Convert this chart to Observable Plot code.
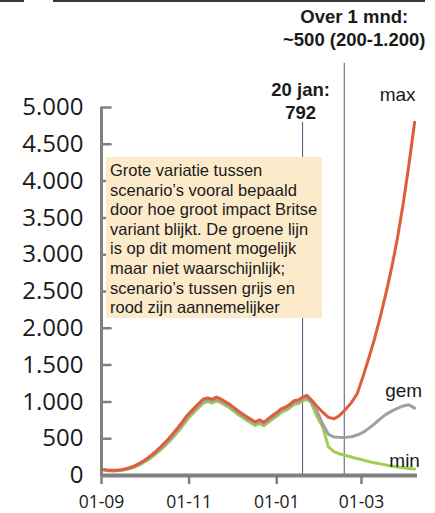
<!DOCTYPE html>
<html><head><meta charset="utf-8">
<script src="https://cdn.jsdelivr.net/npm/d3@7"></script>
<script src="https://cdn.jsdelivr.net/npm/@observablehq/plot@0.6"></script>
<style>
body{margin:0;background:#fff;}
#wrap{position:relative;width:435px;height:513px;overflow:hidden;font-family:"Liberation Sans",Arial,sans-serif;}
#wrap svg{position:absolute;left:0;top:0;}
#note{position:absolute;left:106px;top:157px;width:216px;height:161px;background:#fcebca;box-sizing:border-box;padding:4px 0 0 4px;font-size:16.5px;line-height:19.6px;color:#1a1a1a;white-space:nowrap;}
.topline{position:absolute;top:0px;height:2px;background:#3a3a3a;}
</style></head>
<body><div id="wrap"></div>
<script>
// ---- data ----
const sampleDates = [
  "2020-09-03","2020-09-06","2020-09-09","2020-09-12","2020-09-15","2020-09-18","2020-09-21","2020-09-24","2020-09-27","2020-09-30",
  "2020-10-03","2020-10-06","2020-10-09","2020-10-12","2020-10-15","2020-10-18","2020-10-21","2020-10-24","2020-10-27","2020-10-30",
  "2020-11-02","2020-11-05","2020-11-08","2020-11-11","2020-11-14","2020-11-17","2020-11-20","2020-11-23","2020-11-26","2020-11-29",
  "2020-12-02","2020-12-05","2020-12-08","2020-12-11","2020-12-14","2020-12-17","2020-12-20","2020-12-23","2020-12-26","2020-12-29",
  "2021-01-01","2021-01-04","2021-01-07","2021-01-10","2021-01-13","2021-01-16","2021-01-19","2021-01-22","2021-01-25","2021-01-29",
  "2021-02-02","2021-02-06","2021-02-10","2021-02-14","2021-02-18","2021-02-22","2021-02-26","2021-03-02","2021-03-06","2021-03-10",
  "2021-03-14","2021-03-18","2021-03-22","2021-03-26","2021-03-30","2021-04-03","2021-04-07"
];
const maxValues = [
  80,72,70,72,80,92,110,132,160,195,
  235,280,330,385,445,505,575,645,720,800,
  865,925,985,1040,1055,1035,1065,1040,1005,970,
  925,880,840,800,765,730,755,725,770,815,
  855,905,930,965,1015,1025,1065,1090,1030,940,
  860,790,770,820,900,990,1110,1340,1590,1850,
  2150,2470,2820,3220,3690,4220,4800
];
const gemValues = [
  76,68,66,68,75,86,102,124,150,185,
  222,266,315,365,422,480,548,618,692,772,
  838,898,958,1012,1030,1010,1040,1015,980,945,
  900,855,815,775,740,705,730,700,745,790,
  830,880,905,940,990,1000,1040,1060,1000,880,
  700,560,522,518,518,525,550,585,640,700,
  770,830,875,912,945,960,915
];
const minValues = [
  72,65,62,64,70,80,95,115,140,172,
  208,250,296,345,400,455,520,590,662,740,
  810,870,930,985,1005,985,1015,990,955,920,
  875,830,790,750,715,680,705,675,720,765,
  805,855,880,915,965,975,1015,1035,990,800,
  660,390,320,292,272,252,230,210,190,172,
  158,142,128,116,105,96,88
];
const seriesNames = ["min", "gem", "max"];
const seriesColors = ["#a3cd52", "#a0a0a0", "#de5e3a"];

const xTickDates = ["2020-09-01", "2020-11-01", "2021-01-01", "2021-03-01"];
const xTickLabels = ["01-09", "01-11", "01-01", "01-03"];
const yTickValues = [0, 500, 1000, 1500, 2000, 2500, 3000, 3500, 4000, 4500, 5000];
const yTickLabels = ["0", "500", "1.000", "1.500", "2.000", "2.500", "3.000", "3.500", "4.000", "4.500", "5.000"];

const markerDates = ["2021-01-19", "2021-02-17"];
const markerTexts = ["20 jan:\n792", "Over 1 mnd:\n~500 (200-1.200)"];
const markerTops = [4800, 5600];

const noteLines = [
  "Grote variatie tussen",
  "scenario\u2019s vooral bepaald",
  "door hoe groot impact Britse",
  "variant blijkt. De groene lijn",
  "is op dit moment mogelijk",
  "maar niet waarschijnlijk;",
  "scenario\u2019s tussen grijs en",
  "rood zijn aannemelijker"
];

// ---- build ----
const parse = s => new Date(s + "T00:00:00Z");
const dates = sampleDates.map(parse);
const valueSets = [minValues, gemValues, maxValues];
const rows = [];
valueSets.forEach((vals, k) => vals.forEach((v, i) => rows.push({date: dates[i], value: v, series: seriesNames[k]})));
const lastPoints = seriesNames.map((s, k) => ({date: dates[dates.length - 1], value: valueSets[k][valueSets[k].length - 1], series: s}));

const xStart = parse("2020-09-01");
const xEnd = parse("2021-04-09");
const xTicks = xTickDates.map(parse);
const xLabelMap = new Map(xTicks.map((d, i) => [+d, xTickLabels[i]]));
const yLabelMap = new Map(yTickValues.map((v, i) => [v, yTickLabels[i]]));
const markers = markerDates.map((d, i) => ({date: parse(d), text: markerTexts[i], top: markerTops[i]}));
const markerOffsets = [{dx: -2, dy: 11}, {dx: 10, dy: -62}];

const axisGray = "#808080";
const tickShape = {draw(ctx, l) { ctx.moveTo(0, 0); ctx.lineTo(l, 0); }};
const labelStyle = {max: {dx: -17, dy: -21}, gem: {dx: -11, dy: -11}, min: {dx: -10, dy: -2}};

const chart = Plot.plot({
  width: 435, height: 513,
  marginLeft: 101, marginRight: 18, marginTop: 107, marginBottom: 38,
  style: {fontFamily: "'Liberation Sans', Arial, sans-serif", background: "transparent", overflow: "visible"},
  x: {type: "utc", domain: [xStart, xEnd]},
  y: {domain: [0, 5000]},
  color: {domain: seriesNames, range: seriesColors},
  marks: [
    Plot.ruleX(markers, {x: "date", y1: 0, y2: "top", stroke: "#46587a", strokeWidth: 1}),
    Plot.line(rows, {x: "date", y: "value", z: "series", stroke: "series", strokeWidth: 3, strokeLinejoin: "round", strokeLinecap: "round"}),
    Plot.ruleX([xStart], {y1: 0, y2: 5000, stroke: axisGray, strokeWidth: 3}),
    Plot.vector(yTickValues, {x: () => xStart, y: d => d, length: 9, anchor: "start", shape: tickShape, stroke: axisGray, strokeWidth: 2.5}),
    Plot.ruleY([0], {stroke: axisGray, strokeWidth: 4}),
    Plot.axisX({ticks: xTicks, tickFormat: d => xLabelMap.get(+d), tickSize: 9, tickPadding: 11, fontSize: 17.5, fontFamily: "'Open Sans', sans-serif", stroke: axisGray, strokeWidth: 2.5, fill: "#1a1a1a"}),
    Plot.axisY({ticks: yTickValues, tickFormat: d => yLabelMap.get(d), tickSize: 0, tickPadding: 18, fontSize: 24, fontFamily: "'Open Sans', sans-serif", fill: "#1a1a1a"}),
    ...markers.map((m, i) => Plot.text([m], {x: "date", frameAnchor: "top", text: "text", lineAnchor: "bottom", fontWeight: "bold", fontSize: 18.5, lineHeight: 1.2, fill: "#1a1a1a",
      dx: markerOffsets[i].dx, dy: markerOffsets[i].dy})),
    ...lastPoints.map(p => Plot.text([p], {x: "date", y: "value", text: "series", lineAnchor: "bottom", fontSize: 19, fill: "#1a1a1a", dx: labelStyle[p.series].dx, dy: labelStyle[p.series].dy}))
  ]
});

const wrap = document.getElementById("wrap");
wrap.appendChild(chart);

const note = document.createElement("div");
note.id = "note";
note.innerHTML = noteLines.map(l => `<div>${l}</div>`).join("");
wrap.appendChild(note);

[[0, 24], [53, 372]].forEach(([l, w]) => {
  const d = document.createElement("div");
  d.className = "topline";
  d.style.left = l + "px";
  d.style.width = w + "px";
  wrap.appendChild(d);
});
</script>
</body></html>
